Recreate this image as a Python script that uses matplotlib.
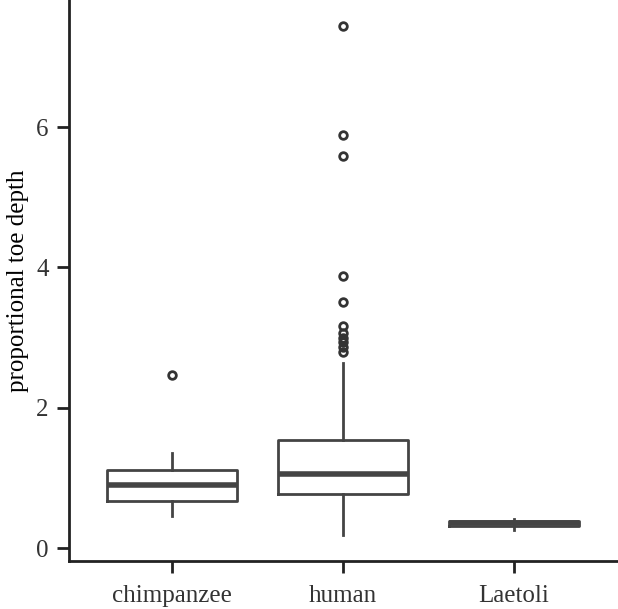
import matplotlib
matplotlib.use('Agg')
import matplotlib.pyplot as plt

plt.rcParams['font.family'] = ['Liberation Serif', 'DejaVu Serif']

# data
groups = ['chimpanzee', 'human', 'Laetoli']
q1 = [0.667, 0.776, 0.32]
median = [0.895, 1.06, 0.35]
q3 = [1.11, 1.536, 0.385]
whislo = [0.45, 0.19, 0.26]
whishi = [1.35, 2.64, 0.42]
outliers = [
    [2.46],
    [7.44, 5.89, 5.59, 3.87, 3.50, 3.16, 3.07, 3.00, 2.93, 2.87, 2.80],
    [],
]

stats = []
for i, name in enumerate(groups):
    stats.append({'label': name, 'q1': q1[i], 'med': median[i], 'q3': q3[i],
                  'whislo': whislo[i], 'whishi': whishi[i], 'fliers': outliers[i]})

fig = plt.figure(figsize=(6.18, 6.09), dpi=100)
ax = fig.add_axes([69 / 618, 1 - 561 / 609, 1 - 69 / 618, 561 / 609])

col = '#444444'
ax.bxp(stats, positions=[1, 2, 3], widths=0.76, showcaps=False,
       boxprops=dict(color=col, linewidth=2.0),
       whiskerprops=dict(color=col, linewidth=2.0),
       medianprops=dict(color=col, linewidth=4.0, solid_capstyle='butt'),
       flierprops=dict(marker='o', markerfacecolor='none', markeredgecolor='#333333',
                       markersize=5.5, markeredgewidth=2.0))

ax.set_xlim(0.398, 3.608)
ax.set_ylim(-0.185, 7.81)
ax.set_yticks([0, 2, 4, 6])
ax.set_xticks([1, 2, 3])
ax.set_xticklabels(groups)
ax.set_ylabel('proportional toe depth', fontsize=18, labelpad=5)

for s in ['top', 'right']:
    ax.spines[s].set_visible(False)
for s in ['left', 'bottom']:
    ax.spines[s].set_linewidth(2.0)
    ax.spines[s].set_color('#222222')
ax.tick_params(axis='both', length=8.5, width=2.0, color='#222222',
               labelsize=18, labelcolor='#333333')
ax.tick_params(axis='x', pad=8.5)
ax.tick_params(axis='y', pad=6)
ax.patch.set_alpha(0)

fig.savefig('out.png', dpi=100)
